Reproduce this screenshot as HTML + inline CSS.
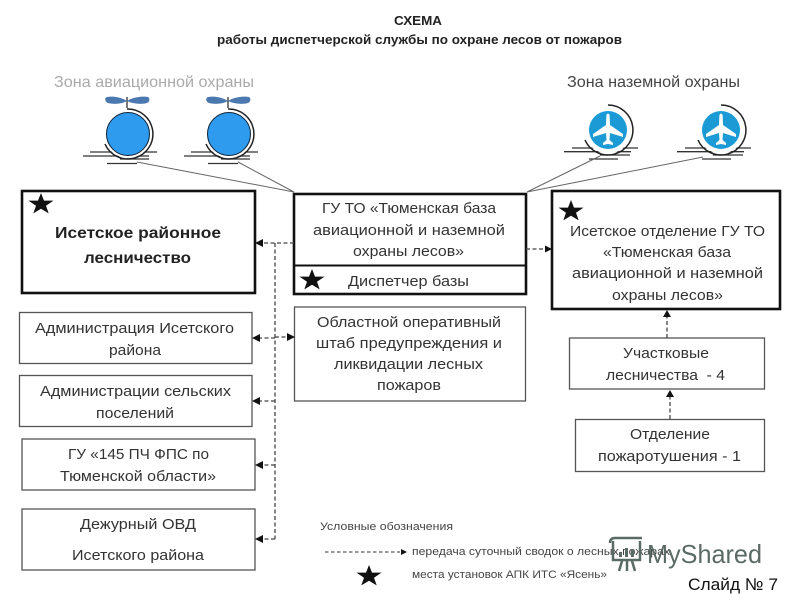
<!DOCTYPE html>
<html><head><meta charset="utf-8"><style>
html,body{margin:0;padding:0;background:#fff}
svg{display:block;width:800px;height:600px;filter:blur(.3px)}
text{font-family:"Liberation Sans","DejaVu Sans",sans-serif;fill:#333;font-size:15px}
.t{font-weight:bold;font-size:13px;fill:#222}
.b{font-weight:bold;font-size:16px;fill:#222}
.l{font-size:11px;fill:#444}
.box{fill:#fff;stroke:#555;stroke-width:1.3}
.bold{fill:#fff;stroke:#111;stroke-width:2.6}
.d{fill:none;stroke:#444;stroke-width:1.3;stroke-dasharray:4 2.5}
.g{stroke:#666;stroke-width:1;fill:none}
.k{stroke:#333;stroke-width:1.3;fill:none}
.w{fill:#5a6a64}
</style></head><body>
<svg viewBox="0 0 800 600" xmlns="http://www.w3.org/2000/svg">
<defs>
<polygon id="star" fill="#111" points="0,-11 3,-3.4 12.5,-3.4 5,1.7 7.7,9.4 0,4.8 -7.7,9.4 -5,1.7 -12.5,-3.4 -3,-3.4"/>
<g id="heli">
<path class="k" d="M-38,18 H29 M-45,22 H21 M-8,25 H21 M-21,29.5 H9"/>
<circle r="24" fill="#fff"/>
<path class="k" d="M-1,-37 V-26"/>
<path fill="#4c78b0" d="M-1,-33 C-7,-37 -16,-38 -21,-37 C-24,-36 -23,-32 -20,-31 C-14,-29.500 -6,-30 -1,-33 C5,-30 14,-29.500 19,-31 C22,-32 22,-36 20,-37 C15,-38 5,-37 -1,-33Z"/>
<circle r="21.500" fill="#2e9bef" stroke="#123" stroke-width="1"/>
<path d="M-1,-25 A25,25 0 1 1 -23,10" fill="none" stroke="#222" stroke-width="1.500"/>
</g>
<g id="plane">
<path class="k" d="M-36,18 H30 M-44,21.700 H23 M-8,25 H22 M-19,29 H10"/>
<circle r="23.500" fill="#fff"/>
<circle r="19" fill="#1b9ad6"/>
<path fill="#fff" d="M-1.600,-15 Q0,-18 1.600,-15 L2,-5 L15,4 V7 L2,3 L1.500,10 L5,13 V15 L0,14 L-5,15 V13 L-1.500,10 L-2,3 L-15,7 V4 L-2,-5Z"/>
<path d="M0,-25 A25,25 0 1 1 -23,10" fill="none" stroke="#222" stroke-width="1.500"/>
</g>
</defs>

<text class="t" x="394" y="25" textLength="48" lengthAdjust="spacingAndGlyphs">СХЕМА</text>
<text class="t" x="217" y="44" textLength="405" lengthAdjust="spacingAndGlyphs">работы диспетчерской службы по охране лесов от пожаров</text>
<text x="54" y="87" textLength="200" lengthAdjust="spacingAndGlyphs" style="fill:#aaa;font-size:16px">Зона авиационной охраны</text>
<text x="567" y="87" textLength="173" lengthAdjust="spacingAndGlyphs" style="fill:#444;font-size:16px">Зона наземной охраны</text>

<use href="#heli" x="128" y="134"/>
<use href="#heli" x="229" y="134"/>
<use href="#plane" x="608" y="130"/>
<use href="#plane" x="721" y="130"/>
<path class="g" d="M137,162 L294,192 M238,162 L294,192 M600,156 L527,192 M703,157 L527,192"/>

<rect class="bold" x="22" y="191" width="233" height="102"/>
<rect class="box" x="19.500" y="312.500" width="232.500" height="51"/>
<rect class="box" x="19.500" y="375.500" width="232.500" height="51"/>
<rect class="box" x="22" y="439" width="233" height="51"/>
<rect class="box" x="22" y="509" width="233" height="61"/>
<rect class="bold" x="294" y="194" width="232" height="100"/>
<path d="M294,265.500 H526" stroke="#111" stroke-width="2"/>
<rect class="box" x="294.500" y="307" width="231" height="94"/>
<rect class="bold" x="552" y="191" width="228" height="118"/>
<rect class="box" x="569.500" y="338" width="195" height="51"/>
<rect class="box" x="575.500" y="419.500" width="189" height="52"/>

<path class="d" d="M275,243 V539 M294,243 H262 M275,338 H260 M275,337 H287 M275,401 H260 M275,465 H262 M275,539 H262 M526,249 H545 M667,338 V316 M670,419 V396"/>
<g fill="#111">
<path d="M255,243 L263,239 V247Z M252,338 L260,334 V342Z M295,337 L287,333 V341Z M252,401 L260,397 V405Z M255,465 L263,461 V469Z M255,539 L263,535 V543Z M552,249 L545,245.500 V252.500Z M667,310 L663,317 H671Z M670,390 L666,397 H674Z"/>
</g>

<use href="#star" x="41" y="204"/>
<use href="#star" x="312" y="280"/>
<use href="#star" x="571" y="211"/>
<use href="#star" x="369" y="576"/>

<text class="b" x="55" y="238" textLength="166" lengthAdjust="spacingAndGlyphs">Исетское районное</text>
<text class="b" x="84" y="263" textLength="107" lengthAdjust="spacingAndGlyphs">лесничество</text>
<text x="35" y="333" textLength="199" lengthAdjust="spacingAndGlyphs">Администрация Исетского</text>
<text x="109" y="355" textLength="52" lengthAdjust="spacingAndGlyphs">района</text>
<text x="40" y="396" textLength="191" lengthAdjust="spacingAndGlyphs">Администрации сельских</text>
<text x="96" y="418" textLength="78" lengthAdjust="spacingAndGlyphs">поселений</text>
<text x="68" y="459" textLength="141" lengthAdjust="spacingAndGlyphs">ГУ «145 ПЧ ФПС по</text>
<text x="60" y="481" textLength="156" lengthAdjust="spacingAndGlyphs">Тюменской области»</text>
<text x="80" y="529" textLength="116" lengthAdjust="spacingAndGlyphs">Дежурный ОВД</text>
<text x="72" y="560" textLength="132" lengthAdjust="spacingAndGlyphs">Исетского района</text>

<text x="322" y="213" textLength="174" lengthAdjust="spacingAndGlyphs">ГУ ТО «Тюменская база</text>
<text x="313" y="235" textLength="192" lengthAdjust="spacingAndGlyphs">авиационной и наземной</text>
<text x="353" y="256" textLength="111" lengthAdjust="spacingAndGlyphs">охраны лесов»</text>
<text x="348" y="286" textLength="121" lengthAdjust="spacingAndGlyphs">Диспетчер базы</text>

<text x="317" y="327" textLength="184" lengthAdjust="spacingAndGlyphs">Областной оперативный</text>
<text x="316" y="348" textLength="186" lengthAdjust="spacingAndGlyphs">штаб предупреждения и</text>
<text x="334" y="369" textLength="149" lengthAdjust="spacingAndGlyphs">ликвидации лесных</text>
<text x="377" y="390" textLength="64" lengthAdjust="spacingAndGlyphs">пожаров</text>

<text x="570" y="236" textLength="195" lengthAdjust="spacingAndGlyphs">Исетское отделение ГУ ТО</text>
<text x="603" y="257" textLength="128" lengthAdjust="spacingAndGlyphs">«Тюменская база</text>
<text x="572" y="278" textLength="191" lengthAdjust="spacingAndGlyphs">авиационной и наземной</text>
<text x="612" y="300" textLength="111" lengthAdjust="spacingAndGlyphs">охраны лесов»</text>

<text x="623" y="358" textLength="86" lengthAdjust="spacingAndGlyphs">Участковые</text>
<text x="606" y="380" textLength="119" lengthAdjust="spacingAndGlyphs" xml:space="preserve">лесничества  - 4</text>
<text x="630" y="439" textLength="80" lengthAdjust="spacingAndGlyphs">Отделение</text>
<text x="598" y="461" textLength="143" lengthAdjust="spacingAndGlyphs">пожаротушения - 1</text>

<text class="l" x="320" y="530" textLength="133" lengthAdjust="spacingAndGlyphs">Условные обозначения</text>
<path d="M325,552 H400" stroke="#333" stroke-width="1" stroke-dasharray="3.500 2.500"/>
<path d="M407,552 L401,549 V555Z" fill="#111"/>
<text class="l" x="412" y="555" textLength="258" lengthAdjust="spacingAndGlyphs">передача суточный сводок о лесных пожарах</text>
<text class="l" x="412" y="578" textLength="195" lengthAdjust="spacingAndGlyphs">места установок АПК ИТС «Ясень»</text>

<path d="M610,543 Q610,538 615,538 H642 M613,541 V560 H640 V541 M619,571 L622,561 M627,571 V561 M635,571 L632,561" fill="none" stroke="#5a6a64" stroke-width="2.500"/>
<rect class="w" x="619" y="552" width="3" height="5"/><rect class="w" x="625" y="548" width="3" height="9"/><rect class="w" x="631" y="550" width="3" height="7"/>
<text x="647" y="563" textLength="115" lengthAdjust="spacingAndGlyphs" style="fill:#5a6a64;font-size:26px">MyShared</text>
<text x="688" y="590" textLength="90" lengthAdjust="spacingAndGlyphs" style="fill:#111;font-size:17px">Слайд № 7</text>
</svg>
</body></html>
